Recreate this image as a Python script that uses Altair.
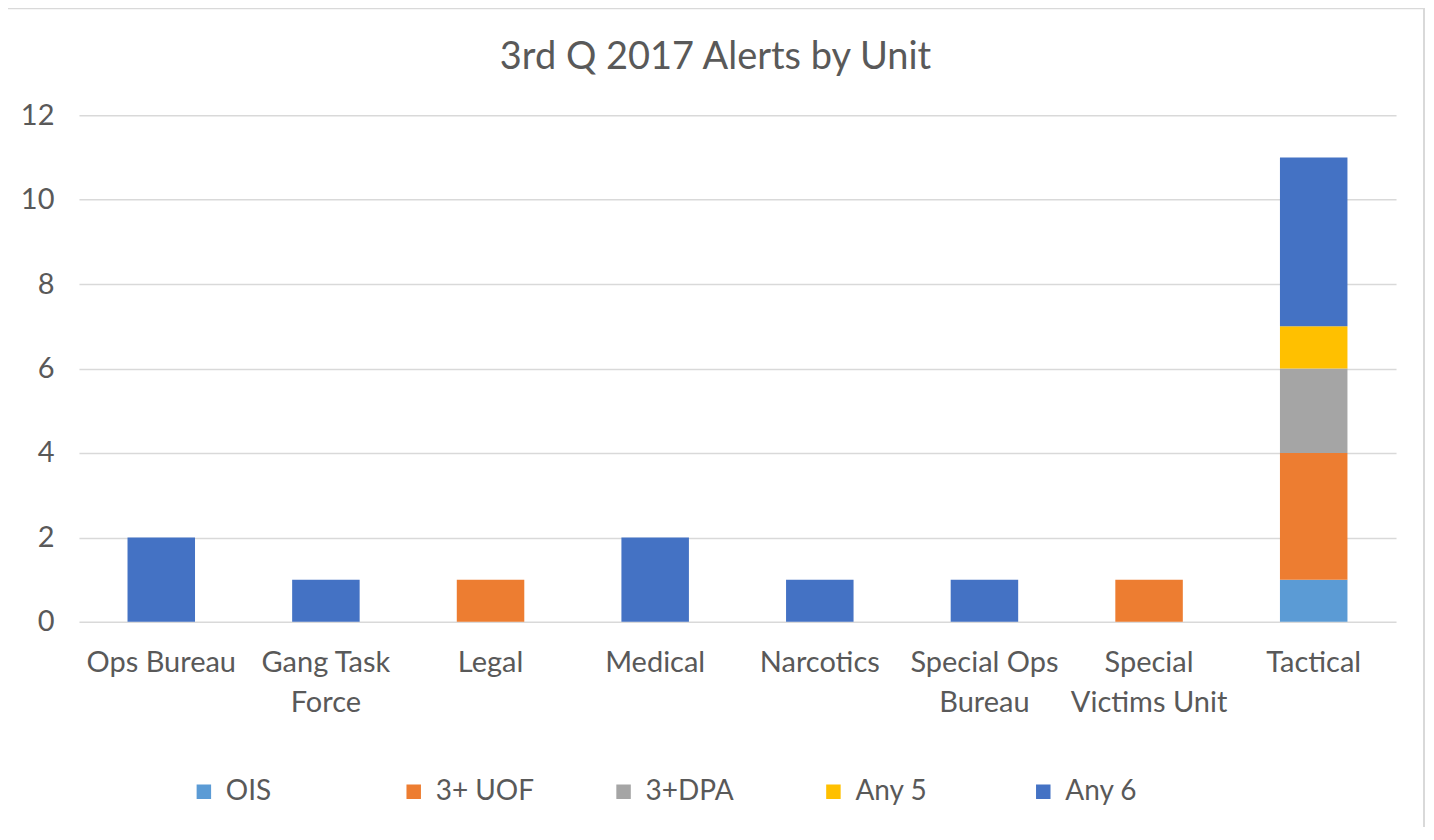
import altair as alt
import pandas as pd

units = ["Ops Bureau", "Gang Task Force", "Legal", "Medical", "Narcotics",
         "Special Ops Bureau", "Special Victims Unit", "Tactical"]
wrapped = {"Gang Task Force": ["Gang Task", "Force"],
           "Special Ops Bureau": ["Special Ops", "Bureau"],
           "Special Victims Unit": ["Special", "Victims Unit"]}
series = ["OIS", "3+ UOF", "3+DPA", "Any 5", "Any 6"]
colors = ["#5B9BD5", "#ED7D31", "#A5A5A5", "#FFC000", "#4472C4"]

ois = [0, 0, 0, 0, 0, 0, 0, 1]
uof = [0, 0, 1, 0, 0, 0, 1, 3]
dpa = [0, 0, 0, 0, 0, 0, 0, 2]
any5 = [0, 0, 0, 0, 0, 0, 0, 1]
any6 = [2, 1, 0, 2, 1, 1, 0, 4]
y_ticks = [0, 2, 4, 6, 8, 10, 12]

rows = []
for s_i, (name, vals) in enumerate(zip(series, [ois, uof, dpa, any5, any6])):
    for u, v in zip(units, vals):
        if v > 0:
            rows.append({"unit": u, "series": name, "value": v, "order": s_i})
df = pd.DataFrame(rows)

label_expr = ""
for k, lines in wrapped.items():
    label_expr += "datum.value == '%s' ? [%s] : " % (k, ", ".join("'%s'" % l for l in lines))
label_expr += "datum.value"

FONT = "Lato"
GREY = "#595959"

bars = alt.Chart(df).mark_bar().encode(
    x=alt.X("unit:N", sort=units, title=None,
            scale=alt.Scale(paddingInner=0.59, paddingOuter=0.295),
            axis=alt.Axis(labelExpr=label_expr, labelAngle=0, labelFontSize=29,
                          labelLineHeight=40, labelPadding=27, labelBaseline="top",
                          labelColor=GREY, labelFont=FONT, domain=False, ticks=False,
                          grid=False, labelLimit=300)),
    y=alt.Y("value:Q", stack="zero", title=None,
            scale=alt.Scale(domain=[0, 12], nice=False),
            axis=alt.Axis(values=y_ticks, labelFontSize=29, labelColor=GREY,
                          labelFont=FONT, labelPadding=25, domain=False, ticks=False,
                          grid=True, gridColor="#D9D9D9", gridWidth=1.5)),
    color=alt.Color("series:N", sort=series,
                    scale=alt.Scale(domain=series, range=colors),
                    legend=alt.Legend(title=None, orient="none", direction="horizontal",
                                      columns=5, legendX=111, legendY=663,
                                      symbolType="square", symbolSize=210,
                                      symbolStrokeWidth=0, labelFontSize=28,
                                      labelFont=FONT, labelColor=GREY,
                                      labelOffset=8, columnPadding=75,
                                      gridAlign="all")),
    order=alt.Order("order:Q"),
)

border = alt.Chart(alt.Data(values=[{}])).mark_rect(
    fill=None, stroke="#D9D9D9", strokeWidth=2
).encode(x=alt.value(-74), x2=alt.value(1346), y=alt.value(-107), y2=alt.value(720))

chart = alt.layer(bars, border).properties(
    width=1318, height=507,
    title=alt.TitleParams("3rd Q 2017 Alerts by Unit", fontSize=38, font=FONT,
                          color=GREY, fontWeight="normal", anchor="middle",
                          dx=-22, dy=92, offset=22),
    autosize=alt.AutoSizeParams(type="none"),
    padding={"left": 71, "top": 107, "right": 30, "bottom": 205},
).configure_view(stroke=None)

chart.save("out.html", embed_options={"renderer": "svg", "actions": False})
